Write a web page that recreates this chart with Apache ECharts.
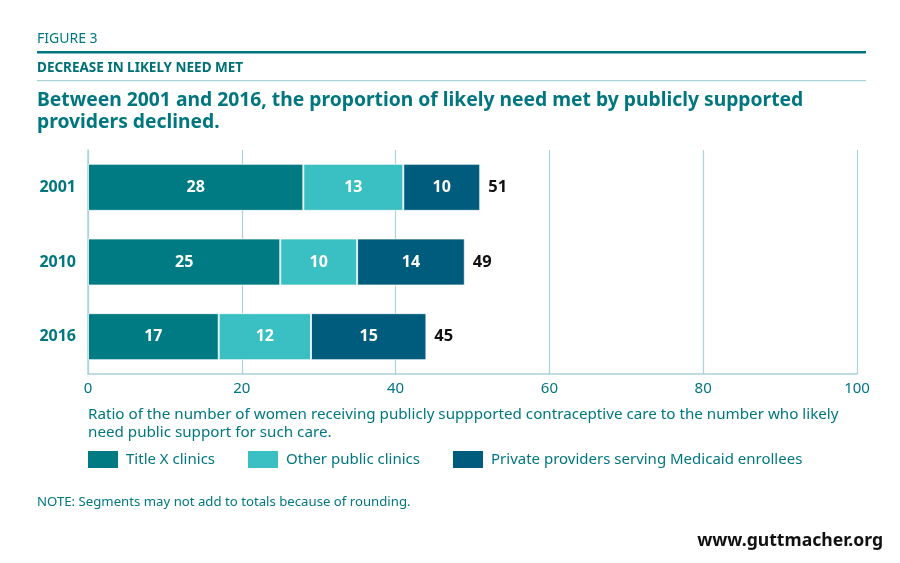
<!DOCTYPE html>
<html><head><meta charset="utf-8">
<script src="https://cdn.jsdelivr.net/npm/echarts@6/dist/echarts.min.js"></script>
<style>html,body{margin:0;padding:0;background:#fff}#c{width:900px;height:563px}</style>
</head><body><div id="c"></div>
<script>
const years = ['2001', '2010', '2016'];
const titleX = [28, 25, 17];
const otherPublic = [13, 10, 12];
const privateProv = [10, 14, 15];
const totals = [51, 49, 45];
const xTicks = [0, 20, 40, 60, 80, 100];

const TEAL = '#00777F';
const FONT = '"Noto Sans", sans-serif';
const chart = echarts.init(document.getElementById('c'), null, {renderer: 'canvas'});

const segLabel = {show: true, position: 'inside', color: '#fff', fontFamily: FONT, fontWeight: 'bold', fontSize: 16};
const itemBase = {borderColor: 'rgba(255,255,255,0.7)', borderWidth: 1};

chart.setOption({
  animation: false,
  textStyle: {fontFamily: FONT},
  title: [
    {text: 'FIGURE 3', left: 37, top: 32, padding: 0, textStyle: {fontFamily: FONT, fontSize: 14, fontWeight: 'normal', color: TEAL}},
    {text: 'DECREASE IN LIKELY NEED MET', left: 37, top: 61, padding: 0, textStyle: {fontFamily: FONT, fontSize: 13.5, fontWeight: 'bold', color: '#006F76'}},
    {text: 'Between 2001 and 2016, the proportion of likely need met by publicly supported\nproviders declined.', left: 37, top: 90, padding: 0,
      textStyle: {fontFamily: FONT, fontSize: 19.3, fontWeight: 'bold', color: TEAL, lineHeight: 22}},
    {text: 'Ratio of the number of women receiving publicly suppported contraceptive care to the number who likely\nneed public support for such care.', left: 88, top: 406, padding: 0,
      textStyle: {fontFamily: FONT, fontSize: 15.2, fontWeight: 'normal', color: TEAL, lineHeight: 18}},
    {text: 'NOTE: Segments may not add to totals because of rounding.', left: 37, top: 496, padding: 0,
      textStyle: {fontFamily: FONT, fontSize: 13.2, fontWeight: 'normal', color: TEAL}},
    {text: 'www.guttmacher.org', right: 17, top: 532, padding: 0,
      textStyle: {fontFamily: FONT, fontSize: 17.6, fontWeight: 'bold', color: '#111'}}
  ],
  graphic: [
    {type: 'rect', shape: {x: 37, y: 51, width: 829, height: 2.5}, style: {fill: '#00777F'}},
    {type: 'rect', shape: {x: 37, y: 80, width: 829, height: 1.2}, style: {fill: '#A9D3D8'}}
  ],
  legend: {
    left: 88, top: 451, padding: 0, itemWidth: 30, itemHeight: 17, itemGap: 33, icon: 'rect',
    data: ['Title X clinics', 'Other public clinics', 'Private providers serving Medicaid enrollees'],
    textStyle: {fontFamily: FONT, fontSize: 15, color: TEAL, padding: [0, 0, 0, 3]},
    itemStyle: {borderWidth: 0}
  },
  grid: {left: 88, right: 43, top: 150, height: 224, containLabel: false},
  xAxis: {
    type: 'value', min: 0, max: 100, interval: 20,
    axisLine: {show: true, lineStyle: {color: '#A9D3D8', width: 1.5}},
    axisTick: {show: false},
    splitLine: {show: true, lineStyle: {color: '#A9D3D8', width: 1.2}},
    axisLabel: {color: TEAL, fontFamily: FONT, fontSize: 15, margin: 7,
      formatter: v => xTicks.includes(v) ? String(v) : ''}
  },
  yAxis: {
    type: 'category', data: years, inverse: true,
    axisLine: {show: true, lineStyle: {color: '#A9D3D8', width: 1.5}},
    axisTick: {show: false},
    axisLabel: {color: TEAL, fontFamily: FONT, fontSize: 16, fontWeight: 'bold', margin: 12}
  },
  series: [
    {name: 'Title X clinics', type: 'bar', stack: 'a', data: titleX, barWidth: 47,
      itemStyle: Object.assign({color: '#007B84'}, itemBase), label: segLabel},
    {name: 'Other public clinics', type: 'bar', stack: 'a', data: otherPublic, barWidth: 47,
      itemStyle: Object.assign({color: '#3ABFC2'}, itemBase), label: segLabel},
    {name: 'Private providers serving Medicaid enrollees', type: 'bar', stack: 'a', data: privateProv, barWidth: 47,
      itemStyle: Object.assign({color: '#005C7C'}, itemBase), label: segLabel},
    {name: 'total', type: 'bar', stack: 'a', data: totals.map(() => 0), barWidth: 47,
      itemStyle: {color: 'transparent'},
      label: {show: true, position: 'right', distance: 8, color: '#111', fontFamily: FONT, fontWeight: 'bold', fontSize: 16.5,
        formatter: p => String(totals[p.dataIndex])}}
  ]
});
</script></body></html>
